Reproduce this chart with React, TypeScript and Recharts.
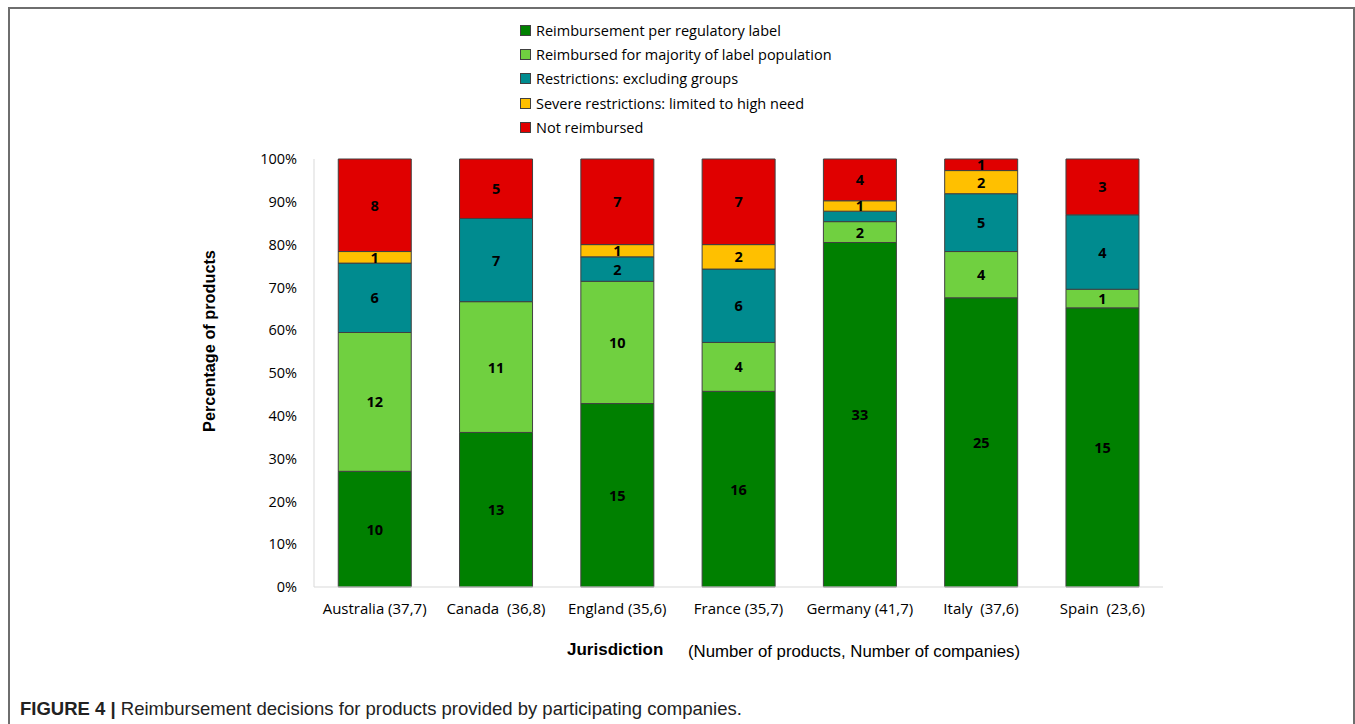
import { BarChart, Bar, XAxis, YAxis, LabelList } from "recharts";

const categories = [
  "Australia (37,7)",
  "Canada \u00a0(36,8)",
  "England (35,6)",
  "France (35,7)",
  "Germany (41,7)",
  "Italy \u00a0(37,6)",
  "Spain \u00a0(23,6)",
];

// product counts per jurisdiction
const perLabel = [10, 13, 15, 16, 33, 25, 15];
const majority = [12, 11, 10, 4, 2, 4, 1];
const excluding = [6, 7, 2, 6, 1, 5, 4];
const highNeed = [1, 0, 1, 2, 1, 2, 0];
const notReimbursed = [8, 5, 7, 7, 4, 1, 3];

const yTicks = [0, 0.1, 0.2, 0.3, 0.4, 0.5, 0.6, 0.7, 0.8, 0.9, 1];

// segments whose count is not printed in the original
const hiddenLabels = [{ key: "excluding", category: "Germany (41,7)" }];

const series = [
  { key: "perLabel", name: "Reimbursement per regulatory label", color: "#008000", values: perLabel },
  { key: "majority", name: "Reimbursed for majority of label population", color: "#70d040", values: majority },
  { key: "excluding", name: "Restrictions: excluding groups", color: "#008b8f", values: excluding },
  { key: "highNeed", name: "Severe restrictions: limited to high need", color: "#ffc000", values: highNeed },
  { key: "notReimbursed", name: "Not reimbursed", color: "#e00000", values: notReimbursed },
];

const rows = categories.map((name, i) => {
  const row: Record<string, any> = { name };
  series.forEach((s) => {
    const v = s.values[i];
    const hidden = hiddenLabels.some((h) => h.key === s.key && h.category === name);
    row[s.key] = v;
    row[s.key + "Label"] = v && !hidden ? String(v) : "";
  });
  return row;
});

const calibri = "'Open Sans', 'DejaVu Sans', sans-serif";
const arial = "'Liberation Sans', Arial, sans-serif";

function segmentLabel(props: any) {
  const { x, y, width, height, value } = props;
  if (!value) return null;
  return (
    <text
      x={Number(x) + Number(width) / 2}
      y={Number(y) + Number(height) / 2}
      textAnchor="middle"
      dominantBaseline="central"
      fontFamily={calibri}
      fontWeight={700}
      fontSize={14.5}
      fill="#000"
    >
      {value}
    </text>
  );
}

function LegendBox() {
  return (
    <div style={{ fontFamily: calibri, fontSize: 14.5, color: "#000" }}>
      {series.map((s) => (
        <div key={s.key} style={{ display: "flex", alignItems: "center", height: 24.3 }}>
          <span
            style={{
              width: 9,
              height: 9,
              background: s.color,
              border: "1px solid #404040",
              marginRight: 5,
              display: "inline-block",
            }}
          />
          <span>{s.name}</span>
        </div>
      ))}
    </div>
  );
}

export default function App() {
  return (
    <div
      style={{
        position: "absolute",
        left: 0,
        top: 0,
        width: 1355,
        height: 724,
        overflow: "hidden",
        background: "#fff",
      }}
    >
      <div
        style={{
          position: "absolute",
          left: 8,
          top: 7,
          width: 1343,
          height: 800,
          border: "2px solid #6e6e6e",
        }}
      />
      <div style={{ position: "absolute", left: 0, top: 0 }}>
        <BarChart
          width={1355}
          height={724}
          data={rows}
          stackOffset="expand"
          barCategoryGap="20%"
          margin={{ top: 159, right: 192, bottom: 107, left: 254 }}
        >
          <XAxis
            dataKey="name"
            height={30}
            tickLine={false}
            axisLine={{ stroke: "#d9d9d9" }}
            tickMargin={10}
            interval={0}
            tick={{ fontFamily: calibri, fontSize: 15, fill: "#000" }}
          />
          <YAxis
            width={60}
            domain={[0, 1]}
            ticks={yTicks}
            tickFormatter={(v: number) => `${Math.round(v * 100)}%`}
            tickLine={false}
            tickSize={0}
            tickMargin={17}
            axisLine={{ stroke: "#d9d9d9" }}
            tick={{ fontFamily: calibri, fontSize: 14.5, fill: "#000" }}
          />
          {series.map((s) => (
            <Bar
              key={s.key}
              dataKey={s.key}
              name={s.name}
              stackId="a"
              fill={s.color}
              stroke="#404040"
              strokeWidth={1}
              isAnimationActive={false}
            >
              <LabelList dataKey={s.key + "Label"} content={segmentLabel} />
            </Bar>
          ))}
        </BarChart>
      </div>
      <div style={{ position: "absolute", left: 520, top: 18 }}>
        <LegendBox />
      </div>
      <div
        style={{
          position: "absolute",
          left: 209,
          top: 341,
          transform: "translate(-50%, -50%) rotate(-90deg)",
          fontFamily: arial,
          fontWeight: 700,
          fontSize: 16.3,
          whiteSpace: "nowrap",
          color: "#000",
        }}
      >
        Percentage of products
      </div>
      <div
        style={{
          position: "absolute",
          left: 567,
          top: 640,
          fontFamily: arial,
          fontWeight: 700,
          fontSize: 17,
          whiteSpace: "nowrap",
          color: "#000",
        }}
      >
        Jurisdiction
      </div>
      <div
        style={{
          position: "absolute",
          left: 688,
          top: 642,
          fontFamily: arial,
          fontSize: 16.8,
          whiteSpace: "nowrap",
          color: "#000",
        }}
      >
        (Number of products, Number of companies)
      </div>
      <div
        style={{
          position: "absolute",
          left: 20,
          top: 698,
          fontFamily: arial,
          fontSize: 18.5,
          whiteSpace: "nowrap",
          color: "#222",
        }}
      >
        <b>FIGURE 4 |</b> Reimbursement decisions for products provided by participating companies.
      </div>
    </div>
  );
}
